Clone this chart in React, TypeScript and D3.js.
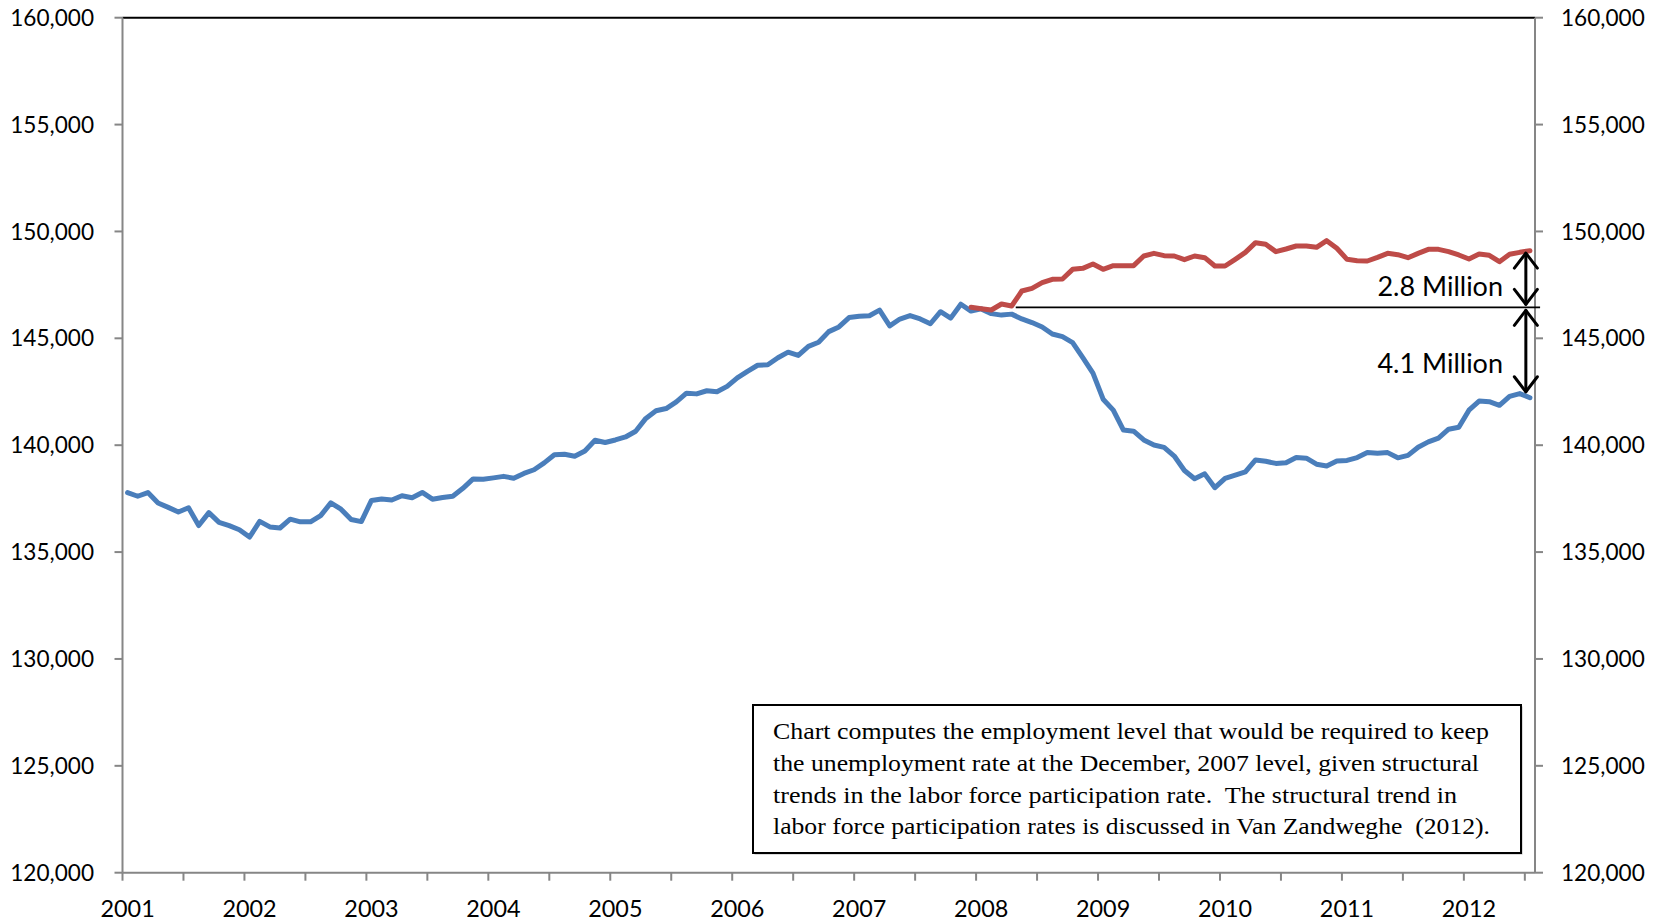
import React from 'react';
import * as d3 from 'd3';

// ---------- data ----------
const startYear = 2001;
// Civilian employment (thousands), monthly, Jan 2001 - Jul 2012
const employment: number[] = [
  137778, 137612, 137783, 137299, 137092, 136873, 137071, 136241, 136846, 136392, 136238, 136047,
  135701, 136438, 136177, 136126, 136539, 136415, 136413, 136705, 137302, 137008, 136521, 136426,
  137417, 137482, 137434, 137633, 137544, 137790, 137474, 137549, 137609, 137984, 138424, 138411,
  138472, 138542, 138453, 138680, 138852, 139174, 139556, 139573, 139487, 139732, 140231, 140125,
  140245, 140385, 140654, 141254, 141609, 141714, 142026, 142434, 142401, 142548, 142499, 142752,
  143150, 143457, 143741, 143761, 144089, 144353, 144202, 144625, 144815, 145314, 145534, 145970,
  146028, 146057, 146320, 145586, 145903, 146063, 145905, 145682, 146244, 145946, 146595, 146273,
  146378, 146156, 146086, 146132, 145908, 145737, 145532, 145203, 145076, 144802, 144100, 143369,
  142152, 141640, 140707, 140656, 140248, 140009, 139901, 139492, 138818, 138432, 138659, 138013,
  138451, 138599, 138752, 139309, 139247, 139148, 139179, 139427, 139393, 139111, 139030, 139266,
  139287, 139422, 139655, 139622, 139653, 139409, 139524, 139904, 140154, 140335, 140747, 140836,
  141637, 142065, 142034, 141865, 142287, 142415, 142220,
];
// Employment needed to hold Dec 2007 unemployment rate, Dec 2007 - Jul 2012
const targetStartIndex = 83;
const targetEmployment: number[] = [
  146450, 146388, 146325, 146606, 146512, 147214, 147339, 147604, 147760, 147776, 148228, 148274,
  148477, 148228, 148399, 148399, 148399, 148851, 148976, 148867, 148851, 148680, 148851, 148773,
  148384, 148384, 148696, 149023, 149475, 149398, 149055, 149179, 149320, 149320, 149257, 149569,
  149211, 148696, 148633, 148618, 148789, 148976, 148914, 148773, 148976, 149164, 149164, 149055,
  148899, 148711, 148945, 148883, 148586, 148930, 149023, 149101,
];
const yTicks: number[] = [120000, 125000, 130000, 135000, 140000, 145000, 150000, 155000, 160000];
const yearLabels: string[] = ['2001', '2002', '2003', '2004', '2005', '2006', '2007', '2008', '2009', '2010', '2011', '2012'];
const referenceLevel = 146450;
const referenceLineFrom = 87.9; // category units
const referenceLineTo = 139.5;
const arrowAt = 138.1;
const gapLabels: string[] = ['2.8 Million', '4.1 Million'];
const noteLines: string[] = [
  'Chart computes the employment level that would be required to keep',
  'the unemployment rate at the December, 2007 level, given structural',
  'trends in the labor force participation rate.  The structural trend in',
  'labor force participation rates is discussed in Van Zandweghe  (2012).',
];

// ---------- layout ----------
const W = 1665;
const H = 922;
const plot = { left: 122.5, right: 1535, top: 17.7, bottom: 872.7 };
const BLUE = '#4A7EBB';
const RED = '#BE4B48';
const AXIS = '#868686';
const SANS = 'Lato, "Open Sans", sans-serif';
const SERIF = '"Liberation Serif", "DejaVu Serif", serif';

export default function App() {
  const N = employment.length;
  const xLin = d3.scaleLinear().domain([0, N]).range([plot.left, plot.right]);
  const xPt = (i: number) => xLin(i + 0.5);
  const y = d3.scaleLinear().domain([120000, 160000]).range([plot.bottom, plot.top]);

  const line = d3
    .line<[number, number]>()
    .x((d) => xPt(d[0]))
    .y((d) => y(d[1]))
    .curve(d3.curveLinear);

  const bluePath = line(employment.map((v, i) => [i, v] as [number, number])) || '';
  const redPath =
    line(targetEmployment.map((v, i) => [i + targetStartIndex, v] as [number, number])) || '';

  const tickIdx = d3.range(0, N, 6);
  const refY = y(referenceLevel);
  const ax = xLin(arrowAt);
  const redEnd = targetEmployment[targetEmployment.length - 1];
  const blueEnd = employment[N - 1];

  const arrow = (y1: number, y2: number, key: string) => {
    const hw = 11.5;
    const hh = 15;
    return (
      <g key={key} stroke="#000" strokeWidth={3} fill="none" strokeLinecap="round" strokeLinejoin="round">
        <line x1={ax} x2={ax} y1={y1} y2={y2} />
        <polyline points={`${ax - hw},${y1 + hh} ${ax},${y1} ${ax + hw},${y1 + hh}`} />
        <polyline points={`${ax - hw},${y2 - hh} ${ax},${y2} ${ax + hw},${y2 - hh}`} />
      </g>
    );
  };

  const box = { x: 753, y: 705, w: 768, h: 148 };
  const noteWidths = [716, 706, 684, 717];

  return (
    <svg
      width={W}
      height={H}
      style={{ position: 'absolute', left: 0, top: 0, background: '#fff' }}
      xmlns="http://www.w3.org/2000/svg"
    >
      <rect x={0} y={0} width={W} height={H} fill="#fff" />
      {/* top border */}
      <line x1={plot.left} x2={plot.right} y1={plot.top} y2={plot.top} stroke="#000" strokeWidth={2} />
      {/* axes */}
      <line x1={plot.left} x2={plot.left} y1={plot.top} y2={plot.bottom} stroke={AXIS} strokeWidth={2} />
      <line x1={plot.right} x2={plot.right} y1={plot.top} y2={plot.bottom} stroke={AXIS} strokeWidth={2} />
      <line x1={plot.left} x2={plot.right} y1={plot.bottom} y2={plot.bottom} stroke={AXIS} strokeWidth={2} />
      {yTicks.map((t) => (
        <g key={'yt' + t}>
          <line x1={plot.left - 8} x2={plot.left} y1={y(t)} y2={y(t)} stroke={AXIS} strokeWidth={2} />
          <line x1={plot.right} x2={plot.right + 8} y1={y(t)} y2={y(t)} stroke={AXIS} strokeWidth={2} />
          <text x={94} y={y(t)} dy="0.36em" textAnchor="end" fontFamily={SANS} fontSize={22.6} fill="#000">
            {d3.format(',')(t)}
          </text>
          <text x={1561} y={y(t)} dy="0.36em" textAnchor="start" fontFamily={SANS} fontSize={22.6} fill="#000">
            {d3.format(',')(t)}
          </text>
        </g>
      ))}
      {tickIdx.map((i) => (
        <line key={'xt' + i} x1={xLin(i)} x2={xLin(i)} y1={plot.bottom} y2={plot.bottom + 8} stroke={AXIS} strokeWidth={2} />
      ))}
      {yearLabels.map((lab, k) => (
        <text key={lab} x={xPt(k * 12)} y={917} textAnchor="middle" fontFamily={SANS} fontSize={23.4} fill="#000">
          {lab}
        </text>
      ))}
      {/* series */}
      <path d={bluePath} fill="none" stroke={BLUE} strokeWidth={5} strokeLinejoin="round" strokeLinecap="round" />
      <path d={redPath} fill="none" stroke={RED} strokeWidth={5} strokeLinejoin="round" strokeLinecap="round" />
      {/* reference line */}
      <line x1={xLin(referenceLineFrom)} x2={xLin(referenceLineTo)} y1={refY} y2={refY} stroke="#000" strokeWidth={1.6} />
      {arrow(y(redEnd) + 2.5, refY - 3, 'a1')}
      {arrow(refY + 3, y(blueEnd) - 6, 'a2')}
      <text x={1503} y={296} textAnchor="end" fontFamily={SANS} fontSize={27} fill="#000">
        {gapLabels[0]}
      </text>
      <text x={1503} y={373} textAnchor="end" fontFamily={SANS} fontSize={27} fill="#000">
        {gapLabels[1]}
      </text>
      {/* note box */}
      <rect x={box.x + 1.5} y={box.y + 1.5} width={box.w} height={box.h} fill="#b8b8b8" />
      <rect x={box.x} y={box.y} width={box.w} height={box.h} fill="#fff" stroke="#000" strokeWidth={2} />
      {noteLines.map((l, k) => (
        <text
          key={k}
          x={773}
          y={739 + k * 31.8}
          fontFamily={SERIF}
          fontSize={23.5}
          fill="#000"
          textLength={noteWidths[k]}
          lengthAdjust="spacingAndGlyphs"
          style={{ whiteSpace: 'pre' }}
          xmlSpace="preserve"
        >
          {l}
        </text>
      ))}
    </svg>
  );
}
